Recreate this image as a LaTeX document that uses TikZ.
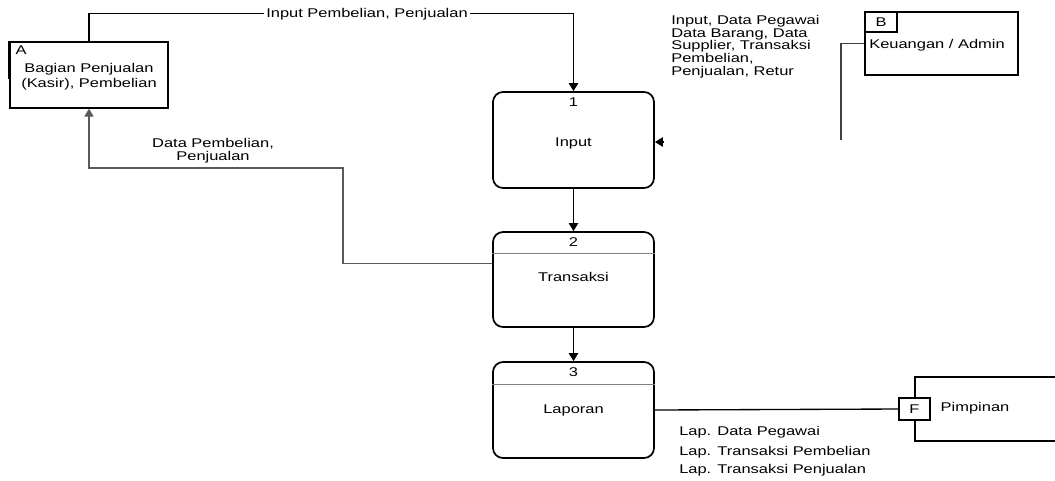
\documentclass[tikz,border=0pt]{standalone}
\usepackage{fontspec}
\setmainfont{Liberation Sans}[FakeStretch=1.3]
\usetikzlibrary{calc,arrows.meta}

\tikzset{
  teks/.style={font=\fontsize{9.5}{9.5}\selectfont, inner sep=0.75pt},
  proses/.style={draw, line width=1.3pt, rounded corners=7.5pt, minimum width=120.75pt, font=\fontsize{9.5}{9.5}\selectfont},
  entitas/.style={draw, line width=1.1pt},
  alur/.style={line width=1pt, -{Triangle[length=6pt,width=7pt]}},
}

\begin{document}
\begin{tikzpicture}[x=0.75pt,y=0.75pt,yscale=-1,xscale=1]
        \useasboundingbox (0,0) rectangle (1055,480);

        %Entity A
        \node (a) [entitas, minimum width=118.5pt, minimum height=49.5pt] at (89,75) {};
        \draw [line width=2pt] (a.north west) -- ++(0,38);
        \node [teks, anchor=north west] at ($(a.north west)+(5,3)$) {A};
        % Text Node
        \node (ateks) [teks, align=center, font=\fontsize{9.5}{11.25}\selectfont] at (89,77) {Bagian Penjualan\\(Kasir), Pembelian};

        %Processes
        \node (p1) [proses, minimum height=72pt] at (573.5,140) {};
        \node (p2) [proses, minimum height=71.25pt] at (573.5,279.5) {};
        \node (p3) [proses, minimum height=72pt] at (573.5,410) {};
        \node [teks] at ($(p1.north)+(0,11)$) {1};
        \node [teks] at ($(p2.north)+(0,11)$) {2};
        \node [teks] at ($(p3.north)+(0,11)$) {3};
        \node [teks] at (573.5,143) {Input};
        \node [teks] at (573.5,277) {Transaksi};
        \node [teks] at (573.5,410) {Laporan};
        \draw [gray, line width=0.6pt] ($(p2.north west)+(0,22)$) -- ($(p2.north east)+(0,22)$);
        \draw [gray, line width=0.6pt] ($(p3.north west)+(0,23)$) -- ($(p3.north east)+(0,23)$);

        %Entity B
        \node (b) [entitas, minimum width=114.75pt, minimum height=47.25pt] at (941.5,43.5) {};
        \node (bkode) [entitas, teks, anchor=north west, minimum width=24pt, minimum height=15pt] at (b.north west) {B};
        % Text Node
        \node [teks, anchor=west] at (868,45) {Keuangan / Admin};

        %Entity F
        \node (f) [entitas, minimum width=112.5pt, minimum height=48pt] at (990,409) {};
        \node (fkode) [entitas, teks, fill=white, minimum width=23.25pt, minimum height=16.5pt] at (914.5,409) {F};
        % Text Node
        \node [teks] at (975,408) {Pimpinan};

        %Data flows
        \draw [alur] (a.north) -- ++(0,-28) -| (p1.north);
        \node [teks, fill=white, inner sep=1.5pt] at (367,14) {Input Pembelian, Penjualan};
        \draw [alur] (p1) -- (p2);
        \draw [alur] (p2) -- (p3);
        \draw [alur, black!65] ($(p2.west)+(0,-16)$) -| (343,168) -| (a.south);
        \node [teks, align=center] at (213,151) {Data Pembelian,\\Penjualan};
        \coordinate (bturun) at (841,140);
        \draw [line width=1pt, black!75] (b.west) -| (bturun);
        \coordinate (bmasuk) at (664,142);
        \draw [alur] (bmasuk) -- (bmasuk -| p1.east);
        \node [teks, align=left, anchor=north west] at (670,14) {Input, Data Pegawai\\Data Barang, Data\\Supplier, Transaksi\\Pembelian,\\Penjualan, Retur};
        \draw [line width=1pt] (p3.east) -- (fkode.west);

        % Text Node
        \node [teks, anchor=west] at (678,432) {Lap. Data Pegawai};
        % Text Node
        \node [teks, anchor=west] at (678,452) {Lap. Transaksi Pembelian};
        % Text Node
        \node [teks, anchor=west] at (678,470) {Lap. Transaksi Penjualan};

    \end{tikzpicture}
\end{document}
